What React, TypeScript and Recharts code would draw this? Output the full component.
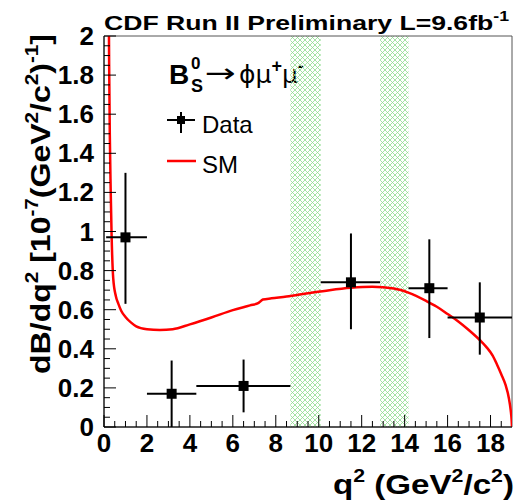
import {
  ComposedChart,
  Line,
  Scatter,
  ErrorBar,
  XAxis,
  YAxis,
  ReferenceArea,
} from "recharts";

// measured bins: centre, bin edges, value and asymmetric errors
const binCentre = [1.0, 3.15, 6.5, 11.5, 15.15, 17.5];
const binLow = [0.1, 2.0, 4.3, 10.09, 14.18, 16.0];
const binHigh = [2.0, 4.3, 8.68, 12.86, 16.0, 19.0];
const dBValue = [0.97, 0.17, 0.21, 0.74, 0.71, 0.56];
const errUp = [0.33, 0.17, 0.135, 0.25, 0.25, 0.18];
const errDown = [0.34, 0.17, 0.135, 0.24, 0.255, 0.19];

// Standard Model prediction
const smQ2 = [
  0.2, 0.22, 0.24, 0.27, 0.31, 0.35, 0.43, 0.55, 0.67, 0.8, 1.0, 1.25, 1.5,
  2.0, 2.6, 3.2, 4.0, 5.0, 6.0, 6.8, 7.2, 7.4, 7.8, 8.5, 9.5, 10.5, 11.5,
  12.5, 13.5, 14.2, 15.0, 15.5, 16.0, 16.5, 17.0, 17.5, 17.8, 18.1, 18.3,
  18.5, 18.7, 18.85, 18.94, 18.98, 19.0,
];
const smDB = [
  2.6, 2.2, 1.85, 1.5, 1.22, 1.0, 0.76, 0.67, 0.63, 0.595, 0.563, 0.535,
  0.515, 0.5, 0.496, 0.5, 0.525, 0.56, 0.598, 0.622, 0.635, 0.652, 0.658,
  0.667, 0.684, 0.7, 0.712, 0.717, 0.708, 0.686, 0.645, 0.615, 0.578, 0.54,
  0.495, 0.445, 0.41, 0.365, 0.32, 0.27, 0.215, 0.15, 0.085, 0.04, 0.0,
];

// charmonium veto regions (J/psi, psi(2S))
const vetoLow = [8.68, 12.86];
const vetoHigh = [10.09, 14.18];

const xLabels = [0, 2, 4, 6, 8, 10, 12, 14, 16, 18];
const yLabels = [0, 0.2, 0.4, 0.6, 0.8, 1, 1.2, 1.4, 1.6, 1.8, 2];

const xTicks = Array.from({ length: 38 }, (_, i) => i * 0.5);
const yTicks = Array.from({ length: 41 }, (_, i) => Math.round(i * 5) / 100);

const points = binCentre.map((c, i) => ({
  q2: c,
  dB: dBValue[i],
  xErr: [c - binLow[i], binHigh[i] - c],
  yErr: [errDown[i], errUp[i]],
}));

const smCurve = smQ2.map((q, i) => ({ q2: q, dB: smDB[i] }));

const FONT = "'Liberation Sans', Arial, Helvetica, sans-serif";
const GREEK = "'DejaVu Sans', sans-serif";

const XTick = (props: any) => {
  const { x, y, payload } = props;
  const v = payload.value;
  const major = xLabels.some((m) => Math.abs(m - v) < 1e-6);
  return (
    <g>
      <line x1={x} y1={y} x2={x} y2={y - (major ? 12 : 6)} stroke="#000" strokeWidth={1} />
      {major && (
        <text x={x} y={y + 25} textAnchor="middle" fontFamily={FONT} fontWeight="bold" fontSize={26} fill="#000">
          {v}
        </text>
      )}
    </g>
  );
};

const YTick = (props: any) => {
  const { x, y, payload } = props;
  const v = payload.value;
  const major = yLabels.some((m) => Math.abs(m - v) < 1e-6);
  return (
    <g>
      <line x1={x} y1={y} x2={x + (major ? 12 : 6)} y2={y} stroke="#000" strokeWidth={1} />
      {major && (
        <text x={x - 10} y={y + 9} textAnchor="end" fontFamily={FONT} fontWeight="bold" fontSize={26} fill="#000">
          {String(Math.round(v * 10) / 10)}
        </text>
      )}
    </g>
  );
};

const DataSquare = (props: any) => {
  const { cx, cy } = props;
  return <rect x={cx - 5} y={cy - 5} width={10} height={10} fill="#000" />;
};

export default function App() {
  return (
    <div style={{ position: "absolute", left: 0, top: 0, background: "#fff" }}>
      <ComposedChart
        width={515}
        height={502}
        margin={{ top: 36, right: 3, left: 0, bottom: 0 }}
      >
        <defs>
          <pattern id="veto" patternUnits="userSpaceOnUse" width={5} height={5}>
            <path d="M0,0 L5,5 M5,0 L0,5" stroke="#8edc8e" strokeWidth={0.8} />
          </pattern>
        </defs>
        <XAxis
          dataKey="q2"
          type="number"
          domain={[0, 19]}
          ticks={xTicks}
          interval={0}
          allowDataOverflow
          height={75}
          tickSize={0}
          tickMargin={0}
          tickLine={false}
          tick={<XTick />}
          axisLine={{ stroke: "#000", strokeWidth: 1 }}
        />
        <YAxis
          dataKey="dB"
          type="number"
          domain={[0, 2]}
          ticks={yTicks}
          interval={0}
          allowDataOverflow
          width={104}
          tickSize={0}
          tickMargin={0}
          tickLine={false}
          tick={<YTick />}
          axisLine={{ stroke: "#000", strokeWidth: 1 }}
        />
        {vetoLow.map((lo, i) => (
          <ReferenceArea
            key={i}
            x1={lo}
            x2={vetoHigh[i]}
            y1={0}
            y2={2}
            fill="url(#veto)"
            fillOpacity={1}
            stroke="none"
          />
        ))}
        <ReferenceArea x1={0} x2={19} y1={0} y2={2} fill="none" stroke="#555" strokeWidth={1} />
        <Line
          data={smCurve}
          dataKey="dB"
          type="monotone"
          stroke="#ff0000"
          strokeWidth={2.5}
          dot={false}
          activeDot={false}
          isAnimationActive={false}
        />
        <Scatter data={points} dataKey="dB" shape={<DataSquare />} isAnimationActive={false}>
          <ErrorBar dataKey="yErr" direction="y" width={0} stroke="#000" strokeWidth={2} isAnimationActive={false} />
          <ErrorBar dataKey="xErr" direction="x" width={0} stroke="#000" strokeWidth={2} isAnimationActive={false} />
        </Scatter>

        {/* title */}
        <text x={104} y={30} fontFamily={FONT} fontWeight="bold" fontSize={21} fill="#000" textLength={405} lengthAdjust="spacingAndGlyphs">
          CDF Run II Preliminary L=9.6fb
          <tspan fontSize={14} dy={-9}>-1</tspan>
        </text>

        {/* axis titles */}
        <text
          x={333}
          y={494}
          fontFamily={FONT}
          fontWeight="bold"
          fontSize={28}
          fill="#000"
          textLength={181}
          lengthAdjust="spacingAndGlyphs"
        >
          q<tspan fontSize={18} dy={-12}>2</tspan>
          <tspan dy={12}> (GeV</tspan>
          <tspan fontSize={18} dy={-12}>2</tspan>
          <tspan dy={12}>/c</tspan>
          <tspan fontSize={18} dy={-12}>2</tspan>
          <tspan dy={12}>)</tspan>
        </text>
        <text
          transform="translate(50,374) rotate(-90)"
          x={0}
          y={0}
          fontFamily={FONT}
          fontWeight="bold"
          fontSize={28}
          fill="#000"
          textLength={340}
          lengthAdjust="spacingAndGlyphs"
        >
          dB/dq<tspan fontSize={18} dy={-12}>2</tspan>
          <tspan dy={12}> [10</tspan>
          <tspan fontSize={18} dy={-12}>-7</tspan>
          <tspan dy={12}>(GeV</tspan>
          <tspan fontSize={18} dy={-12}>2</tspan>
          <tspan dy={12}>/c</tspan>
          <tspan fontSize={18} dy={-12}>2</tspan>
          <tspan dy={12}>)</tspan>
          <tspan fontSize={18} dy={-12}>-1</tspan>
          <tspan dy={12}>]</tspan>
        </text>

        {/* decay label */}
        <text x={169} y={84} fontFamily={FONT} fontWeight="bold" fontSize={28} fill="#000">B</text>
        <text x={191} y={69} fontFamily={FONT} fontWeight="bold" fontSize={17} fill="#000">0</text>
        <text x={191} y={92} fontFamily={FONT} fontWeight="bold" fontSize={18} fill="#000">S</text>
        <text
          x={205}
          y={82}
          fontFamily={GREEK}
          fontSize={26}
          fill="#000"
          textLength={31}
          lengthAdjust="spacingAndGlyphs"
        >
          →
        </text>
        <text x={239} y={83} fontFamily={GREEK} fontSize={25} fill="#000">
          ϕμ<tspan fontSize={18} dy={-11} fontFamily={FONT} fontWeight="bold">+</tspan>
          <tspan dy={11}>μ</tspan>
          <tspan fontSize={18} dy={-11} fontFamily={FONT} fontWeight="bold">-</tspan>
        </text>

        {/* legend */}
        <line x1={167} y1={120} x2={195} y2={120} stroke="#000" strokeWidth={2} />
        <line x1={181} y1={112} x2={181} y2={133} stroke="#000" strokeWidth={2} />
        <rect x={177} y={116} width={8} height={8} fill="#000" />
        <text x={202} y={133} fontFamily={FONT} fontSize={24} fill="#000">Data</text>
        <line x1={167} y1={161} x2={196} y2={161} stroke="#ff0000" strokeWidth={2.5} />
        <text x={202} y={173} fontFamily={FONT} fontSize={24} fill="#000">SM</text>
      </ComposedChart>
    </div>
  );
}
